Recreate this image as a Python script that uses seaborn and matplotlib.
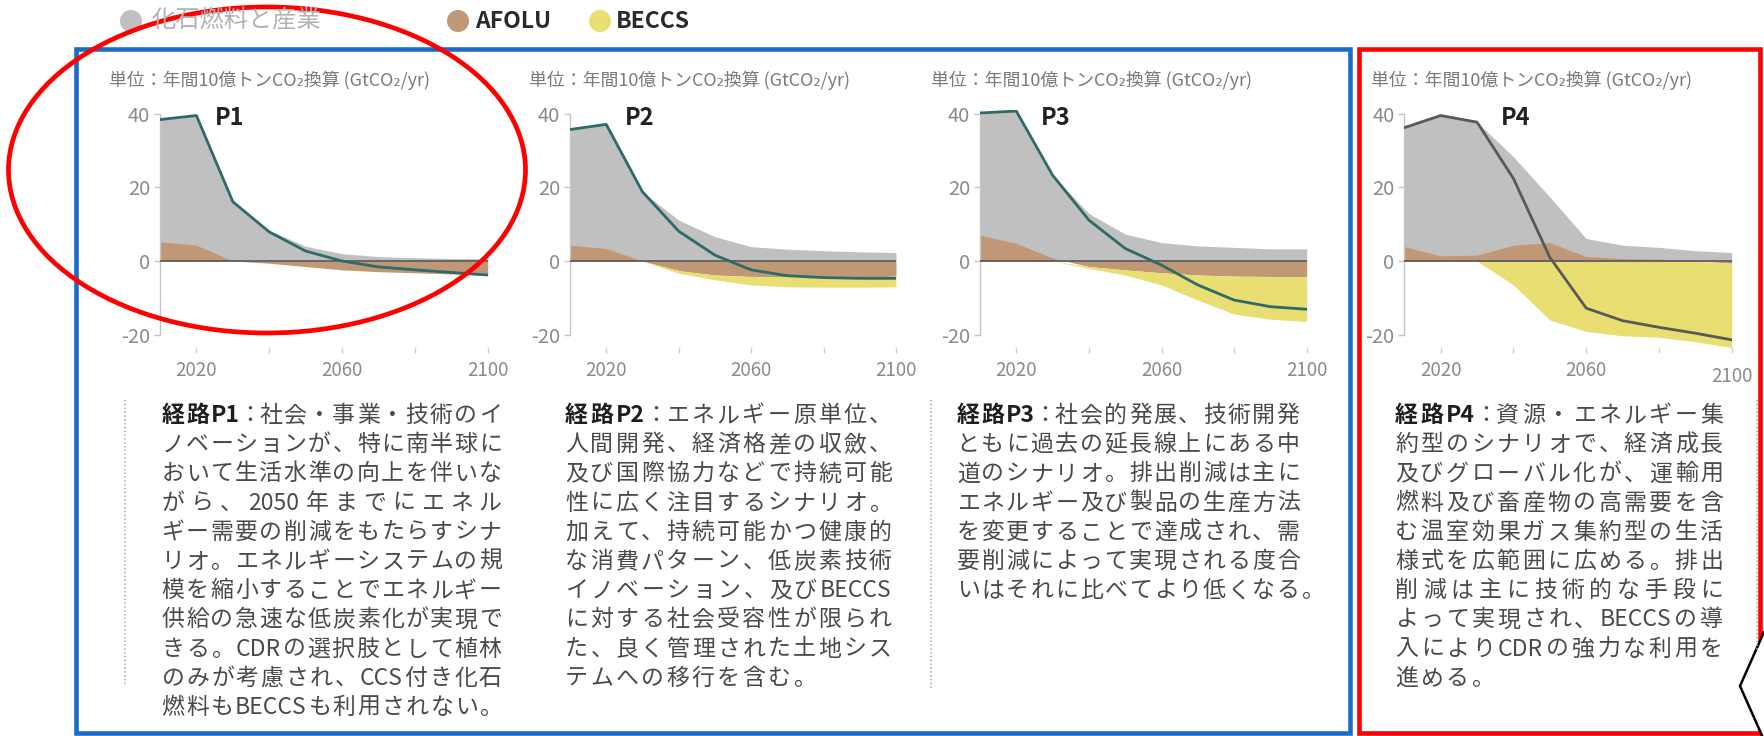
import numpy as np
import pandas as pd
import seaborn as sns
import matplotlib
matplotlib.use("Agg")
import matplotlib.pyplot as plt
from matplotlib import transforms as mtransforms
from matplotlib.patches import Rectangle, Ellipse, Circle, Polygon

# ---------------------------------------------------------------- data
years = [2010, 2020, 2030, 2040, 2050, 2060, 2070, 2080, 2090, 2100]

# GtCO2/yr : fossil fuel & industry, AFOLU, BECCS, net CO2
p1_fossil = [33.2, 35.2, 16.1, 8.3, 4.0, 2.0, 1.2, 0.9, 0.7, 0.6]
p1_afolu = [5.2, 4.3, 0.0, -0.6, -1.5, -2.4, -2.9, -3.2, -3.5, -3.9]
p1_beccs = [0, 0, 0, 0, 0, 0, 0, 0, 0, 0]
p1_net = [38.4, 39.5, 16.1, 7.9, 2.7, 0.0, -1.6, -2.4, -3.1, -3.8]

p2_fossil = [31.4, 33.7, 18.8, 11.1, 6.6, 3.9, 3.2, 2.8, 2.5, 2.3]
p2_afolu = [4.3, 3.4, 0.0, -2.6, -3.8, -4.2, -4.2, -4.5, -4.5, -4.1]
p2_beccs = [0, 0, 0, -0.7, -1.3, -2.3, -2.8, -2.6, -2.6, -2.9]
p2_net = [35.7, 37.1, 18.8, 8.1, 1.6, -2.4, -4.0, -4.5, -4.7, -4.7]

p3_fossil = [33.2, 35.9, 22.5, 12.9, 7.3, 5.0, 4.1, 3.7, 3.3, 3.3]
p3_afolu = [7.0, 4.8, 0.8, -1.5, -2.4, -3.2, -3.8, -4.1, -4.2, -4.2]
p3_beccs = [0, 0, 0, -0.5, -1.4, -3.3, -6.8, -10.3, -11.6, -12.2]
p3_net = [40.2, 40.7, 23.3, 11.1, 3.4, -1.1, -6.5, -10.6, -12.4, -13.1]

p4_fossil = [32.3, 38.1, 36.1, 24.0, 12.4, 4.9, 3.6, 3.2, 2.7, 2.3]
p4_afolu = [3.9, 1.4, 1.6, 4.3, 5.0, 1.2, 0.7, 0.5, 0.1, -0.6]
p4_beccs = [0, 0, 0, -6.5, -16.0, -19.1, -20.3, -20.7, -21.9, -22.9]
p4_net = [36.2, 39.5, 37.7, 22.4, 1.0, -12.8, -16.2, -18.0, -19.6, -21.4]

pathway_names = ["P1", "P2", "P3", "P4"]
legend_labels = ["化石燃料と産業", "AFOLU", "BECCS"]
unit_label = "単位：年間10億トンCO₂換算 (GtCO₂/yr)"
y_ticks = [-20, 0, 20, 40]
x_ticks = [2020, 2040, 2060, 2080, 2100]
x_ticklabels = ["2020", "", "2060", "", "2100"]

descriptions = [
    [[("経路P1", True), ("：社会・事業・技術のイ", False)],
     "ノベーションが、特に南半球に",
     "おいて生活水準の向上を伴いな",
     "がら、2050年までにエネル",
     "ギー需要の削減をもたらすシナ",
     "リオ。エネルギーシステムの規",
     "模を縮小することでエネルギー",
     "供給の急速な低炭素化が実現で",
     "きる。CDRの選択肢として植林",
     "のみが考慮され、CCS付き化石",
     "燃料もBECCSも利用されない。"],
    [[("経路P2", True), ("：エネルギー原単位、", False)],
     "人間開発、経済格差の収斂、",
     "及び国際協力などで持続可能",
     "性に広く注目するシナリオ。",
     "加えて、持続可能かつ健康的",
     "な消費パターン、低炭素技術",
     "イノベーション、及びBECCS",
     "に対する社会受容性が限られ",
     "た、良く管理された土地シス",
     "テムへの移行を含む。"],
    [[("経路P3", True), ("：社会的発展、技術開発", False)],
     "ともに過去の延長線上にある中",
     "道のシナリオ。排出削減は主に",
     "エネルギー及び製品の生産方法",
     "を変更することで達成され、需",
     "要削減によって実現される度合",
     "いはそれに比べてより低くなる。"],
    [[("経路P4", True), ("：資源・エネルギー集", False)],
     "約型のシナリオで、経済成長",
     "及びグローバル化が、運輸用",
     "燃料及び畜産物の高需要を含",
     "む温室効果ガス集約型の生活",
     "様式を広範囲に広める。排出",
     "削減は主に技術的な手段に",
     "よって実現され、BECCSの導",
     "入によりCDRの強力な利用を",
     "進める。"],
]

# ---------------------------------------------------------------- style
GREY = "#c0c0c0"
BROWN = "#c09876"
YELLOW = "#e8de72"
TEAL = "#2e6a69"
DARK = "#595959"
BLUE = "#1a6dc7"
RED = "#ff0000"

sns.set_theme(style="white")
plt.rcParams["font.family"] = ["Noto Sans CJK JP", "DejaVu Sans"]
plt.rcParams["axes.unicode_minus"] = False

W, H = 1764, 736
fig = plt.figure(figsize=(W / 100, H / 100), dpi=100)
fig.patch.set_facecolor("white")

# panel geometry in pixels: y = 40 at 113.3 px, y = 0 at 261 px
AX_TOP, AX_BOTTOM = 110.0, 353.1
panel_layout = [
    dict(left=160.0, width=327.7, label_x=2025.2, unit_x=109, line=TEAL),
    dict(left=570.0, width=326.0, label_x=2025.2, unit_x=529, line=TEAL),
    dict(left=980.0, width=326.7, label_x=2026.7, unit_x=931, line=TEAL),
    dict(left=1404.3, width=327.4, label_x=2036.5, unit_x=1371, line=DARK),
]
series = [
    (p1_fossil, p1_afolu, p1_beccs, p1_net),
    (p2_fossil, p2_afolu, p2_beccs, p2_net),
    (p3_fossil, p3_afolu, p3_beccs, p3_net),
    (p4_fossil, p4_afolu, p4_beccs, p4_net),
]

axes = []
for name, lay, (fossil, afolu, beccs, net) in zip(pathway_names, panel_layout, series):
    ax = fig.add_axes([lay["left"] / W, 1 - AX_BOTTOM / H,
                       lay["width"] / W, (AX_BOTTOM - AX_TOP) / H])
    ax.patch.set_alpha(0)
    df = pd.DataFrame({"year": years, "fossil": fossil, "afolu": afolu,
                       "beccs": beccs, "net": net})
    pos_base = df["afolu"].clip(lower=0)
    neg_base = df["afolu"].clip(upper=0)
    ax.fill_between(df["year"], 0, pos_base + df["fossil"], color=GREY, lw=0, zorder=1)
    ax.fill_between(df["year"], 0, df["afolu"], color=BROWN, lw=0, zorder=2)
    ax.fill_between(df["year"], neg_base, neg_base + df["beccs"], color=YELLOW, lw=0, zorder=2)
    ax.axhline(0, color="#5e5e5e", lw=1.3, zorder=3)
    sns.lineplot(data=df, x="year", y="net", ax=ax, color=lay["line"], lw=2.0, zorder=4)

    ax.set_xlim(2010, 2100)
    ax.set_ylim(-25, 41)
    ax.set_xlabel("")
    ax.set_ylabel("")
    for s in ("top", "right", "bottom"):
        ax.spines[s].set_visible(False)
    ax.spines["left"].set_color("#c6c6c6")
    ax.spines["left"].set_linewidth(1.0)
    ax.spines["left"].set_bounds(-20, 40)
    ax.set_yticks(y_ticks)
    ax.set_yticklabels([str(v) for v in y_ticks])
    ax.set_xticks(x_ticks)
    ax.set_xticklabels(x_ticklabels)
    ax.tick_params(axis="y", left=True, length=4, width=1, color="#c6c6c6",
                   labelsize=14.5, labelcolor="#8a8a8a", pad=3)
    ax.tick_params(axis="x", bottom=True, direction="in", length=4, width=1,
                   color="#cfcfcf", labelsize=13.5, labelcolor="#8a8a8a", pad=5)
    ax.text(lay["label_x"], 38.7, name, fontsize=17, fontweight="bold",
            color="#222222", ha="left", va="center", zorder=5)
    axes.append(ax)

# the last panel's final year label sits a little lower
last_lab = axes[-1].xaxis.get_major_ticks()[-1].label1
last_lab.set_transform(last_lab.get_transform()
                       + mtransforms.ScaledTranslation(0, -0.06, fig.dpi_scale_trans))

# ---------------------------------------------------------------- overlay (pixel coordinates)
ov = fig.add_axes([0, 0, 1, 1], zorder=10)
ov.set_xlim(0, W)
ov.set_ylim(H, 0)
ov.axis("off")
ov.patch.set_alpha(0)

# legend
legend_cols = [GREY, BROWN, YELLOW]
legend_dot_x = [131, 458, 600]
legend_txt_x = [151, 475, 616]
legend_txt_col = ["#b2b2b2", "#2a2a2a", "#2a2a2a"]
legend_weight = ["normal", "bold", "bold"]
for lab, c, dx, tx, tc, wt in zip(legend_labels, legend_cols, legend_dot_x,
                                  legend_txt_x, legend_txt_col, legend_weight):
    ov.add_patch(Circle((dx, 21), 11, color=c, lw=0))
    ov.text(tx, 21, lab, fontsize=17.5 if wt == "normal" else 16.5, fontweight=wt,
            color=tc, ha="left", va="center")

# unit captions above each panel
for lay in panel_layout:
    ov.text(lay["unit_x"], 80, unit_label, fontsize=12.9, color="#7a7a7a",
            ha="left", va="center")

# frames
ov.add_patch(Rectangle((76, 49), 1350 - 76, 733 - 49, fill=False, ec=BLUE, lw=3.3))
ov.add_patch(Rectangle((1359, 49), 1760 - 1359, 733 - 49, fill=False, ec=RED, lw=3.3))
ov.add_patch(Polygon([(1764, 632), (1740, 686), (1764, 740), (1770, 740), (1770, 632)],
                     closed=True, fc="white", ec="none"))
ov.plot([1764, 1740, 1764], [632, 686, 740], color="black", lw=1.8,
        solid_joinstyle="miter")
ov.add_patch(Ellipse((267, 170), 517, 326, fill=False, ec=RED, lw=3.4))

# dotted separators beside the description columns
for sx, y_end in [(125, 686), (931, 690), (1757, 650)]:
    ov.plot([sx, sx], [400, y_end], color="#a8a8a8", lw=1.1, ls=(0, (1, 1.5)))

# ---------------------------------------------------------------- justified descriptions
BODY_PT = 16.5
EM = BODY_PT * 100 / 72          # full-width glyph advance in pixels
COLON_ADV = 0.7 * EM             # the full-width colon is set tight
renderer = fig.canvas.get_renderer()
_width_cache = {}


def advance(s, bold):
    """Pixel advance of a token: full-width glyphs take one em, Latin runs are measured."""
    if s == "：":
        return COLON_ADV
    if len(s) == 1 and ord(s) > 127:
        return EM
    key = (s, bold)
    if key not in _width_cache:
        t = ov.text(0, 0, s, fontsize=BODY_PT, fontweight="bold" if bold else "normal")
        bb = t.get_window_extent(renderer)
        t.remove()
        _width_cache[key] = bb.width + 0.02 * EM
    return _width_cache[key]


def tokenize(line):
    parts = [(line, False)] if isinstance(line, str) else line
    toks = []
    for seg, bold in parts:
        buf = ""
        for c in seg:
            if ord(c) < 128:
                buf += c
            else:
                if buf:
                    toks.append((buf, bold))
                    buf = ""
                toks.append((c, bold))
        if buf:
            toks.append((buf, bold))
    return toks


para_geom = [(161.7, 340.0), (565.0, 327.0), (956.7, 343.0), (1395.0, 328.0)]
FIRST_BASELINE = 422.0
LEAD = 29.2

for lines, (x0, width) in zip(descriptions, para_geom):
    tok_lines = [tokenize(l) for l in lines]
    adv_lines = [[advance(t, b) for t, b in toks] for toks in tok_lines]
    gaps = [(width - sum(a)) / (len(a) - 1) for a in adv_lines[:-1]]
    natural_gap = float(np.median(gaps)) if gaps else 1.5
    for i, (toks, advs) in enumerate(zip(tok_lines, adv_lines)):
        gap = gaps[i] if i < len(gaps) else natural_gap
        x = x0
        y = FIRST_BASELINE + i * LEAD
        for (t, b), a in zip(toks, advs):
            shift = -(EM - COLON_ADV) / 2 if t == "：" else 0.0
            ov.text(x + shift, y, t, fontsize=BODY_PT, fontweight="bold" if b else "normal",
                    color="#1e1e1e" if b else "#4a4a4a", ha="left", va="baseline")
            x += a + gap

fig.savefig("out.png", dpi=100, facecolor="white")
